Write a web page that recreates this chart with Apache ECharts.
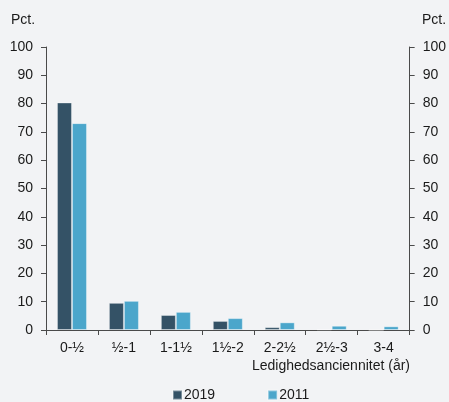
<!DOCTYPE html>
<html><head><meta charset="utf-8">
<script src="https://cdn.jsdelivr.net/npm/echarts@6/dist/echarts.min.js"></script>
<style>html,body{margin:0;padding:0;background:#f2f3f5}#c{width:449px;height:402px}</style>
</head><body><div id="c"></div>
<script>
const categories = ['0-½','½-1','1-1½','1½-2','2-2½','2½-3','3-4'];
const series2019 = [80.4, 9.6, 5.3, 3.2, 1.0, 0.2, 0.0];
const series2011 = [73.1, 10.3, 6.4, 4.2, 2.7, 1.5, 1.3];
const yTicks = {min: 0, max: 100, interval: 10};
const font = 'Liberation Sans, Arial, sans-serif';
const txt = {fontFamily: font, fontSize: 14, fontWeight: 'normal', color: '#1a1a1a'};
const axisCol = '#4a4a4a';
const chart = echarts.init(document.getElementById('c'));
chart.setOption({
  backgroundColor: '#f2f3f5',
  animation: false,
  textStyle: {fontFamily: font},
  title: [
    {text: 'Pct.', left: 11, top: 13, padding: 0, textStyle: txt},
    {text: 'Pct.', left: 422, top: 13, padding: 0, textStyle: txt},
    {text: 'Ledighedsanciennitet (år)', right: 39, top: 359, padding: 0, textStyle: txt}
  ],
  legend: {
    top: 388, left: 172, padding: 0, itemWidth: 9, itemHeight: 9, itemGap: 52,
    icon: 'rect', textStyle: {...txt, padding: [0, 0, 0, -3]},
    data: ['2019', '2011']
  },
  grid: {left: 46, right: 38, top: 47, bottom: 72},
  xAxis: {
    type: 'category', data: categories,
    axisLine: {lineStyle: {color: axisCol, width: 1}},
    axisTick: {show: true, length: 5, alignWithLabel: false, lineStyle: {color: axisCol}},
    axisLabel: {margin: 11, ...txt}
  },
  yAxis: [
    {type: 'value', ...yTicks, position: 'left',
     axisLine: {show: true, lineStyle: {color: axisCol}},
     axisTick: {show: true, length: 5, lineStyle: {color: axisCol}},
     splitLine: {show: false},
     axisLabel: {margin: 13, ...txt}},
    {type: 'value', ...yTicks, position: 'right',
     axisLine: {show: true, lineStyle: {color: axisCol}},
     axisTick: {show: true, length: 5, lineStyle: {color: axisCol}},
     splitLine: {show: false},
     axisLabel: {margin: 13, ...txt}}
  ],
  series: [
    {name: '2019', type: 'bar', data: series2019, barWidth: 15, barGap: '0%',
     itemStyle: {color: '#345266', borderColor: 'rgba(255,255,255,0.35)', borderWidth: 1}},
    {name: '2011', type: 'bar', data: series2011, barWidth: 15, barGap: '0%',
     itemStyle: {color: '#4ba6cb', borderColor: 'rgba(255,255,255,0.35)', borderWidth: 1}}
  ]
});
</script></body></html>
